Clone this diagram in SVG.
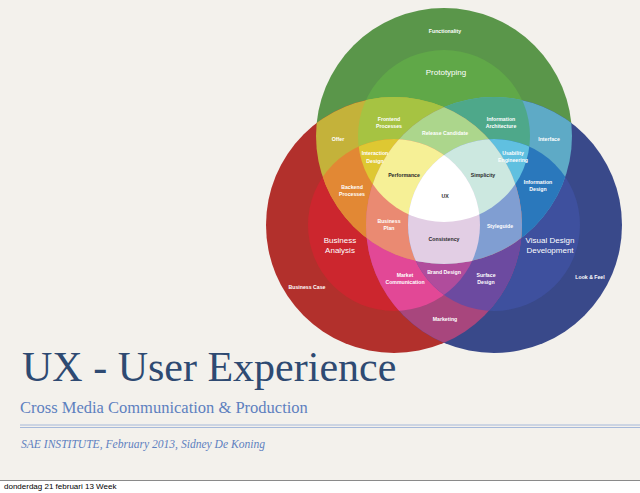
<svg xmlns="http://www.w3.org/2000/svg" width="640" height="493" viewBox="0 0 640 493">
<style>
.l{font-family:"Liberation Sans",Arial,sans-serif;font-size:5.2px;font-weight:bold;fill:#fff;text-anchor:middle}
.d{fill:#2a2a2a}
.big{font-size:8px;font-weight:normal}
.title{font-family:"Liberation Serif","Times New Roman",serif;fill:#2e4a72}
.sub{font-family:"Liberation Serif","Times New Roman",serif;fill:#5d80bf}
</style>
<defs>
<clipPath id="cOG"><circle cx="444" cy="136" r="128"/></clipPath>
<clipPath id="cIG"><circle cx="444" cy="136" r="86"/></clipPath>
<clipPath id="cOR"><circle cx="394" cy="225" r="128"/></clipPath>
<clipPath id="cIR"><circle cx="394" cy="225" r="86"/></clipPath>
<clipPath id="cOB"><circle cx="494" cy="225" r="128"/></clipPath>
<clipPath id="cIB"><circle cx="494" cy="225" r="86"/></clipPath>
</defs>
<rect width="640" height="493" fill="#ffffff"/>
<rect width="640" height="480" fill="#f3f1ec"/>
<line x1="0" y1="480.5" x2="640" y2="480.5" stroke="#8a8a8a" stroke-width="1"/>

<g id="venn">
<circle id="functionality" cx="444" cy="136" r="128" fill="#5a964a"/>
<circle id="business-case" cx="394" cy="225" r="128" fill="#b2302c"/>
<circle id="look-feel" cx="494" cy="225" r="128" fill="#39498a"/>
<circle id="prototyping" cx="444" cy="136" r="86" fill="#60a848"/>
<circle id="business-analysis" cx="394" cy="225" r="86" fill="#cc262e"/>
<circle id="visual-design" cx="494" cy="225" r="86" fill="#3e509e"/>
<g id="offer" clip-path="url(#cOG)"><circle cx="394" cy="225" r="128" fill="#c4b23a"/></g>
<g id="interface" clip-path="url(#cOG)"><circle cx="494" cy="225" r="128" fill="#5eaac6"/></g>
<g id="marketing" clip-path="url(#cOR)"><circle cx="494" cy="225" r="128" fill="#a8467d"/></g>
<g id="frontend" clip-path="url(#cIG)"><circle cx="394" cy="225" r="128" fill="#a6c342"/></g>
<g id="info-arch" clip-path="url(#cIG)"><circle cx="494" cy="225" r="128" fill="#4ea88a"/></g>
<g id="backend" clip-path="url(#cIR)"><circle cx="444" cy="136" r="128" fill="#e28834"/></g>
<g id="market-comm" clip-path="url(#cIR)"><circle cx="494" cy="225" r="128" fill="#e24896"/></g>
<g id="info-design" clip-path="url(#cIB)"><circle cx="444" cy="136" r="128" fill="#2a78bc"/></g>
<g id="surface" clip-path="url(#cIB)"><circle cx="394" cy="225" r="128" fill="#6c4aa0"/></g>
<g clip-path="url(#cOG)"><g clip-path="url(#cOR)"><circle cx="494" cy="225" r="128" fill="#d09060"/></g></g>
<g id="interaction" clip-path="url(#cIG)"><circle cx="394" cy="225" r="86" fill="#dec832"/></g>
<g id="usability" clip-path="url(#cIG)"><circle cx="494" cy="225" r="86" fill="#60c0e0"/></g>
<g id="brand" clip-path="url(#cIR)"><circle cx="494" cy="225" r="86" fill="#b04c9c"/></g>
<g id="release" clip-path="url(#cOR)"><g clip-path="url(#cOB)"><circle cx="444" cy="136" r="86" fill="#acd68c"/></g></g>
<g id="business-plan" clip-path="url(#cOG)"><g clip-path="url(#cOB)"><circle cx="394" cy="225" r="86" fill="#ea8a72"/></g></g>
<g id="styleguide" clip-path="url(#cOG)"><g clip-path="url(#cOR)"><circle cx="494" cy="225" r="86" fill="#809ed2"/></g></g>
<g id="performance" clip-path="url(#cIG)"><g clip-path="url(#cIR)"><circle cx="494" cy="225" r="128" fill="#f6f096"/></g></g>
<g id="simplicity" clip-path="url(#cIG)"><g clip-path="url(#cIB)"><circle cx="394" cy="225" r="128" fill="#cce8e0"/></g></g>
<g id="consistency" clip-path="url(#cIR)"><g clip-path="url(#cIB)"><circle cx="444" cy="136" r="128" fill="#e2cee4"/></g></g>
<g id="ux" clip-path="url(#cIG)"><g clip-path="url(#cIR)"><circle cx="494" cy="225" r="86" fill="#ffffff"/></g></g>
</g>

<g id="labels">
<text class="l" x="445" y="33">Functionality</text>
<text class="l big" x="446" y="75">Prototyping</text>
<text class="l" x="338" y="141">Offer</text>
<text class="l" x="389" y="121">Frontend</text>
<text class="l" x="389" y="128">Processes</text>
<text class="l" x="445" y="135">Release Candidate</text>
<text class="l" x="501" y="121">Information</text>
<text class="l" x="501" y="128">Architecture</text>
<text class="l" x="549" y="141">Interface</text>
<text class="l" x="375" y="155">Interaction</text>
<text class="l" x="375" y="163">Design</text>
<text class="l d" x="404" y="177">Performance</text>
<text class="l d" x="483" y="177">Simplicity</text>
<text class="l" x="513" y="155">Usability</text>
<text class="l" x="513" y="162">Engineering</text>
<text class="l" x="538" y="184">Information</text>
<text class="l" x="538" y="191">Design</text>
<text class="l d" x="445" y="198">UX</text>
<text class="l" x="352" y="189">Backend</text>
<text class="l" x="352" y="196">Processes</text>
<text class="l" x="389" y="223">Business</text>
<text class="l" x="389" y="230">Plan</text>
<text class="l d" x="444" y="241">Consistency</text>
<text class="l" x="500" y="228">Styleguide</text>
<text class="l big" x="340" y="243">Business</text>
<text class="l big" x="340" y="253">Analysis</text>
<text class="l big" x="550" y="243">Visual Design</text>
<text class="l big" x="550" y="253">Development</text>
<text class="l" x="307" y="289">Business Case</text>
<text class="l" x="590" y="279">Look &amp; Feel</text>
<text class="l" x="405" y="277">Market</text>
<text class="l" x="405" y="284">Communication</text>
<text class="l" x="444" y="274">Brand Design</text>
<text class="l" x="486" y="277">Surface</text>
<text class="l" x="486" y="284">Design</text>
<text class="l" x="445" y="321">Marketing</text>
</g>

<g id="titles">
<text class="title" x="22" y="381" font-size="42">UX - User Experience</text>
<text class="sub" x="20" y="412.5" font-size="16.5">Cross Media Communication &amp; Production</text>
<line x1="20" y1="425" x2="640" y2="425" stroke="#9db2d8" stroke-width="0.9"/>
<line x1="20" y1="427.5" x2="640" y2="427.5" stroke="#9db2d8" stroke-width="0.9"/>
<text class="sub" x="21" y="447.5" font-size="12" font-style="italic" fill="#6b89c6" textLength="244" lengthAdjust="spacingAndGlyphs">SAE INSTITUTE, February 2013, Sidney De Koning</text>
<text x="4" y="489" font-family="Liberation Sans,Arial,sans-serif" font-size="8" fill="#000">donderdag 21 februari 13 Week</text>
</g>
</svg>
